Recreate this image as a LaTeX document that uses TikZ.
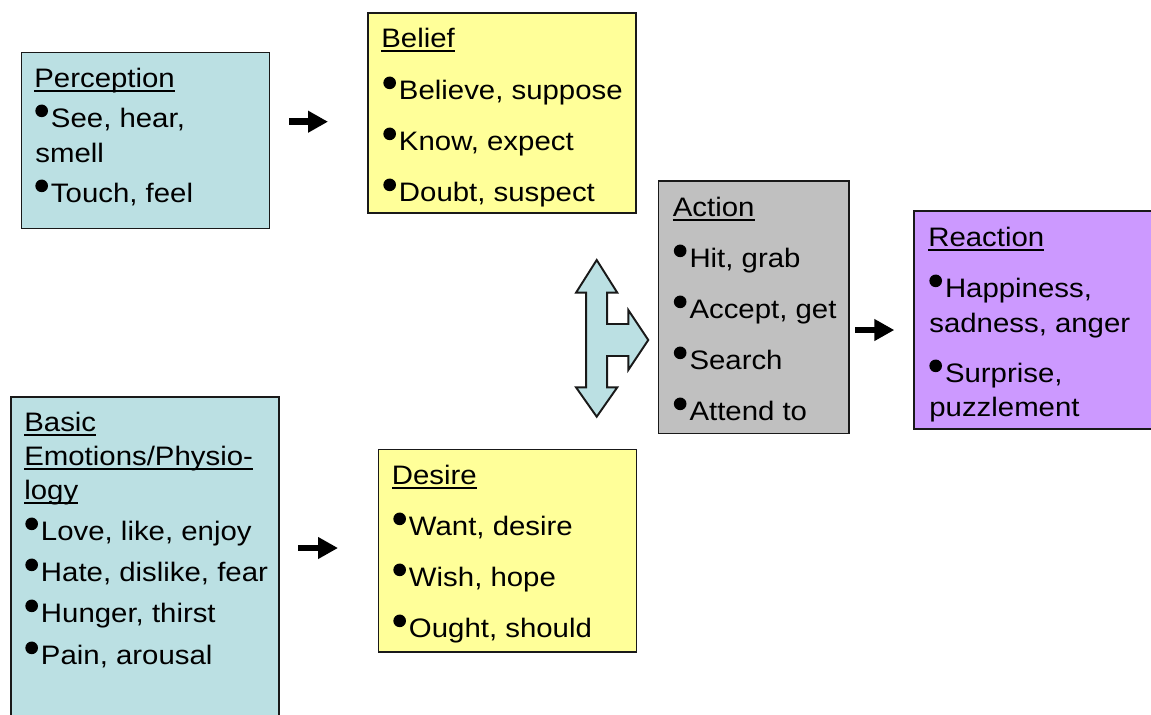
\documentclass[tikz,border=0pt]{standalone}
\usepackage{fontspec}
\setmainfont{Liberation Sans}[FakeStretch=1.1]
\usetikzlibrary{arrows.meta,fit}
\definecolor{cyanbox}{HTML}{BBE0E3}
\definecolor{yellowbox}{HTML}{FFFF99}
\definecolor{greybox}{HTML}{C0C0C0}
\definecolor{violetbox}{HTML}{CC99FF}
\newcommand\ttl[1]{\setbox0\hbox{#1}\rlap{\rule[-3pt]{\wd0}{1.1pt}}\box0}
\newcommand\bul{\tikz[baseline=0pt]{\fill (3.5pt,9.2pt) circle (3.6pt); \path (0pt,0pt) (8.8pt,0pt);}}
\tikzset{
  card/.style={draw=black!90,line width=1.1pt,inner sep=0pt},
  txt/.style={anchor=base west,inner sep=0pt,font=\fontsize{15.2pt}{18pt}\selectfont},
  fat/.style={line width=3.8pt,-{Triangle[length=11.3pt,width=11.7pt]}},
  flag/.style={draw=black!90,line width=1.1pt,fill=cyanbox,line join=miter}
}
\begin{document}
\begin{tikzpicture}[x=0.02cm,y=-0.02cm]
  \useasboundingbox (0,0) rectangle (1151,714);
  % boxes
  \node[card,fill=cyanbox,fit={(21.5,52.5)(269.5,228.5)}] (per) {};
  \node[card,fill=yellowbox,fit={(368,13)(636,213)}] (bel) {};
  \node[card,fill=greybox,fit={(658.5,181)(849,433.5)}] (act) {};
  \node[card,fill=violetbox,fit={(914,211)(1165,429)}] (rea) {};
  \node[card,fill=cyanbox,fit={(11,397)(279,740)}] (emo) {};
  \node[card,fill=yellowbox,fit={(378.5,449.5)(636.5,652)}] (des) {};
  % texts
  \node[txt] (per-0) at (34,87) {\ttl{Perception}};
  \foreach \y/\t [count=\i] in {127/{\bul See, hear,},162/smell,202/{\bul Touch, feel}}
    \node[txt] (per-\i) at (35,\y) {\t};
  \node[txt] (bel-0) at (381,47) {\ttl{Belief}};
  \foreach \y/\t [count=\i] in {99/{Believe, suppose},150/{Know, expect},201/{Doubt, suspect}}
    \node[txt] (bel-\i) at (383,\y) {\bul\t};
  \node[txt] (act-0) at (672.5,216) {\ttl{Action}};
  \foreach \y/\t [count=\i] in {267/{Hit, grab},318/{Accept, get},369/Search,420/{Attend to}}
    \node[txt] (act-\i) at (673.5,\y) {\bul\t};
  \node[txt] (rea-0) at (928,246) {\ttl{Reaction}};
  \foreach \y/\t [count=\i] in {297/{\bul Happiness,},332/{sadness, anger},382/{\bul Surprise,},416/puzzlement}
    \node[txt] (rea-\i) at (929,\y) {\t};
  \node[txt] (emo-0) at (24,431) {\ttl{Basic}};
  \node[txt] (emo-1) at (24,465) {\ttl{Emotions/Physio-}};
  \node[txt] (emo-2) at (24,499) {\ttl{logy}};
  \foreach \y/\t [count=\i from 3] in {540/{Love, like, enjoy},581/{Hate, dislike, fear},622/{Hunger, thirst},664/{Pain, arousal}}
    \node[txt] (emo-\i) at (25,\y) {\bul\t};
  \node[txt] (des-0) at (391.5,484) {\ttl{Desire}};
  \foreach \y/\t [count=\i] in {535/{Want, desire},586/{Wish, hope},637/{Ought, should}}
    \node[txt] (des-\i) at (393,\y) {\bul\t};
  % small arrows
  \coordinate (pb-s) at (289,121.7);
  \coordinate (pb-e) at (328,121.7);
  \coordinate (ed-s) at (298,548);
  \coordinate (ed-e) at (338,548);
  \coordinate (ar-s) at (855,330);
  \coordinate (ar-e) at (894.3,330);
  \draw[fat] (pb-s) -- (pb-e);
  \draw[fat] (ed-s) -- (ed-e);
  \draw[fat] (ar-s) -- (ar-e);
  % three-way block arrow
  \draw[flag] (596.7,260) -- (617.3,292.7) -- (607.2,292.7) -- (607.2,324)
    -- (628.3,324) -- (628.3,310) -- (648.3,340) -- (628.3,370) -- (628.3,356)
    -- (607.2,356) -- (607.2,387.3) -- (617.3,387.3) -- (596.7,416.7)
    -- (576,387.3) -- (586.2,387.3) -- (586.2,292.7) -- (576,292.7) -- cycle;
\end{tikzpicture}
\end{document}
